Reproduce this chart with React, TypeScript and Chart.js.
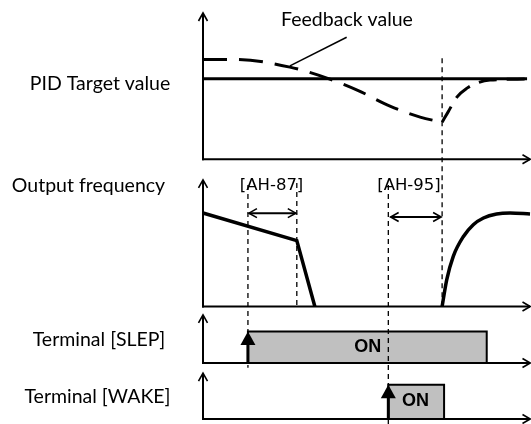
import React, { useEffect, useRef } from "react";
import { Chart, registerables } from "chart.js";

Chart.register(...registerables);

// ---- data (time axis: 0 = vertical axis, 100 = arrow tip; each panel: 0 = baseline, 100 = arrow tip)
const targetTime = [0, 98.8];
const targetValue = [55, 55];

const feedbackFallTime = [0, 9.8, 26.5, 37.8, 47, 57, 66.2, 72.9];
const feedbackFallValue = [68.2, 68.2, 63, 55.5, 47.3, 36.3, 28.8, 25.3];
const feedbackRiseTime = [72.9, 74.7, 77.4, 80.5, 83.5, 87.5, 98.8];
const feedbackRiseValue = [25.3, 32.2, 42.5, 48.6, 52.1, 54.1, 54.8];

const pointerTime = [26.5, 43.8];
const pointerValue = [63.8, 83.4];

const freqDropTime = [0, 28.6, 34.1];
const freqDropValue = [73.8, 52, 0];
const freqRecoverTime = [72.9, 74.3, 76.3, 79.4, 82.4, 85.5, 89.5, 93.6, 99.7];
const freqRecoverValue = [0, 21, 39.6, 55.3, 64.6, 69.9, 73, 73.8, 73];

const slepTime = [13.7, 13.7, 86.5, 86.5];
const slepValue = [0, 65.4, 65.4, 0];
const wakeTime = [56.5, 56.5, 73.5, 73.5];
const wakeValue = [0, 74.6, 74.6, 0];

const markerTime = [13.7, 28.6, 56.5, 72.9];
const markerFromPanel = ["freq", "freq", "freq", "pid"];
const markerFromValue = [96, 97.6, 96, 69];
const markerToPanel = ["wake", "freq", "wake", "freq"];
const markerToValue = [111.5, 0, -12, 0];

const spanStart = [13.7, 56.9];
const spanEnd = [28.6, 72.9];
const spanValue = [73.7, 70.6];
const spanLabels = ["[AH-87]", "[AH-95]"];
const spanLabelTime = [20.9, 62.8];
const spanLabelValue = [91.6, 91.6];

const onPanels = ["slep", "wake"];
const onTime = [50.2, 64.8];
const onValue = [34.4, 42];
const riseTime = [13.7, 56.5];
const riseValue = [65.4, 74.6];

const panelIds = ["pid", "freq", "slep", "wake"];
const panelLabels = ["PID Target value", "Output frequency", "Terminal [SLEP]", "Terminal [WAKE]"];
const panelLabelValue = [47.4, 90.5, 35.8, 35.4];
const panelLabelCenter = [100, 88.5, 99, 97.5];

const feedbackLabel = "Feedback value";
const feedbackLabelTime = 43.9;
const feedbackLabelValue = 91;

const pts = (xs: number[], ys: number[]) => xs.map((x, i) => ({ x, y: ys[i] }));

const LABEL_FONT = '19.5px Lato, "Open Sans", sans-serif';

const diagramPlugin = {
  id: "diagram",
  afterDatasetsDraw(chart: any) {
    const ctx: CanvasRenderingContext2D = chart.ctx;
    const px = (t: number) => chart.scales.x.getPixelForValue(t);
    const py = (id: string, v: number) => chart.scales[id].getPixelForValue(v);
    ctx.save();
    ctx.strokeStyle = "#000";
    ctx.fillStyle = "#000";

    // dashed markers
    ctx.lineWidth = 1.3;
    ctx.setLineDash([5, 4]);
    markerTime.forEach((t, i) => {
      const x = px(t);
      ctx.beginPath();
      ctx.moveTo(x, py(markerFromPanel[i], markerFromValue[i]));
      ctx.lineTo(x, py(markerToPanel[i], markerToValue[i]));
      ctx.stroke();
    });
    ctx.setLineDash([]);

    // axes with open arrow heads
    panelIds.forEach((id) => {
      const x0 = px(0);
      const y0 = py(id, 0);
      const yTop = py(id, 100);
      const xEnd = px(100);
      ctx.lineWidth = 2;
      ctx.beginPath();
      ctx.moveTo(x0, y0 + 1);
      ctx.lineTo(x0, yTop + 1);
      ctx.stroke();
      ctx.beginPath();
      ctx.moveTo(x0 - 1, y0);
      ctx.lineTo(xEnd - 1, y0);
      ctx.stroke();
      ctx.lineWidth = 1.6;
      ctx.beginPath();
      ctx.moveTo(x0 - 4.5, yTop + 8);
      ctx.lineTo(x0, yTop);
      ctx.lineTo(x0 + 4.5, yTop + 8);
      ctx.stroke();
      ctx.beginPath();
      ctx.moveTo(xEnd - 8.5, y0 - 4.5);
      ctx.lineTo(xEnd - 0.8, y0);
      ctx.lineTo(xEnd - 8.5, y0 + 4.5);
      ctx.stroke();
    });

    // double-headed span arrows
    spanStart.forEach((s, i) => {
      const xa = px(s) + 1;
      const xb = px(spanEnd[i]) - 1;
      const y = py("freq", spanValue[i]);
      ctx.lineWidth = 2;
      ctx.beginPath();
      ctx.moveTo(xa, y);
      ctx.lineTo(xb, y);
      ctx.stroke();
      ctx.lineWidth = 1.6;
      ctx.beginPath();
      ctx.moveTo(xa + 8, y - 4.5);
      ctx.lineTo(xa, y);
      ctx.lineTo(xa + 8, y + 4.5);
      ctx.moveTo(xb - 8, y - 4.5);
      ctx.lineTo(xb, y);
      ctx.lineTo(xb - 8, y + 4.5);
      ctx.stroke();
    });

    // rising edge arrows (filled heads)
    onPanels.forEach((id, i) => {
      const x = px(riseTime[i]);
      const y0 = py(id, 0);
      const yTop = py(id, riseValue[i]);
      ctx.lineWidth = 3;
      ctx.beginPath();
      ctx.moveTo(x, y0);
      ctx.lineTo(x, yTop + 10);
      ctx.stroke();
      ctx.beginPath();
      ctx.moveTo(x, yTop);
      ctx.lineTo(x - 7.5, yTop + 13.5);
      ctx.lineTo(x + 7.5, yTop + 13.5);
      ctx.closePath();
      ctx.fill();
    });

    // ON texts
    ctx.font = 'bold 18px "Liberation Sans", Arial, sans-serif';
    ctx.textAlign = "center";
    ctx.textBaseline = "middle";
    onPanels.forEach((id, i) => {
      ctx.fillText("ON", px(onTime[i]), py(id, onValue[i]) + 1);
    });

    // span labels
    ctx.font = '16.5px "DejaVu Sans", sans-serif';
    ctx.textBaseline = "alphabetic";
    spanLabels.forEach((lab, i) => {
      ctx.fillText(lab, px(spanLabelTime[i]), py("freq", spanLabelValue[i]));
    });

    // feedback label
    ctx.font = LABEL_FONT;
    ctx.fillText(feedbackLabel, px(feedbackLabelTime), py("pid", feedbackLabelValue));

    // panel labels
    panelIds.forEach((id, i) => {
      ctx.fillText(panelLabels[i], panelLabelCenter[i], py(id, panelLabelValue[i]));
    });
    ctx.restore();
  },
};

export default function App() {
  const ref = useRef<HTMLCanvasElement | null>(null);
  useEffect(() => {
    if (!ref.current) return;
    const line = (data: any[], extra: any = {}) => ({
      data,
      showLine: true,
      pointRadius: 0,
      borderColor: "#000",
      backgroundColor: "#000",
      borderWidth: 3,
      clip: false,
      fill: false,
      ...extra,
    });
    const chart = new Chart(ref.current, {
      type: "scatter",
      data: {
        datasets: [
          line(pts(targetTime, targetValue), { yAxisID: "pid", borderWidth: 3 }),
          line(pts(feedbackFallTime, feedbackFallValue), {
            yAxisID: "pid",
            borderDash: [24, 12],
            cubicInterpolationMode: "monotone",
          }),
          line(pts(feedbackRiseTime, feedbackRiseValue), {
            yAxisID: "pid",
            borderDash: [18, 10],
            cubicInterpolationMode: "monotone",
          }),
          line(pts(pointerTime, pointerValue), { yAxisID: "pid", borderWidth: 1.5 }),
          line(pts(freqDropTime, freqDropValue), { yAxisID: "freq", borderWidth: 3.5 }),
          line(pts(freqRecoverTime, freqRecoverValue), {
            yAxisID: "freq",
            borderWidth: 3.5,
            cubicInterpolationMode: "monotone",
          }),
          line(pts(slepTime, slepValue), {
            yAxisID: "slep",
            borderWidth: 2,
            fill: "origin",
            backgroundColor: "#c0c0c0",
          }),
          line(pts(wakeTime, wakeValue), {
            yAxisID: "wake",
            borderWidth: 2,
            fill: "origin",
            backgroundColor: "#c0c0c0",
          }),
        ],
      },
      options: {
        animation: false,
        responsive: false,
        devicePixelRatio: 1,
        layout: { padding: { left: 203, right: 0, top: 13, bottom: 5 } },
        plugins: { legend: { display: false }, tooltip: { enabled: false } },
        events: [],
        scales: {
          x: { type: "linear", min: 0, max: 100, display: false },
          wake: {
            type: "linear", position: "left", stack: "panels", stackWeight: 56, weight: 1,
            min: 0, max: 121.7, display: false,
          },
          slep: {
            type: "linear", position: "left", stack: "panels", stackWeight: 56.6, weight: 2,
            min: 0, max: 117.2, display: false,
          },
          freq: {
            type: "linear", position: "left", stack: "panels", stackWeight: 147.4, weight: 3,
            min: 0, max: 116.3, display: false,
          },
          pid: {
            type: "linear", position: "left", stack: "panels", stackWeight: 146.3, weight: 4,
            min: 0, max: 100, display: false,
          },
        },
      } as any,
      plugins: [diagramPlugin as any],
    });
    return () => chart.destroy();
  }, []);
  return (
    <div style={{ position: "fixed", left: 0, top: 0, width: 531, height: 424, background: "#fff" }}>
      <canvas ref={ref} width={531} height={424} style={{ display: "block" }} />
    </div>
  );
}
